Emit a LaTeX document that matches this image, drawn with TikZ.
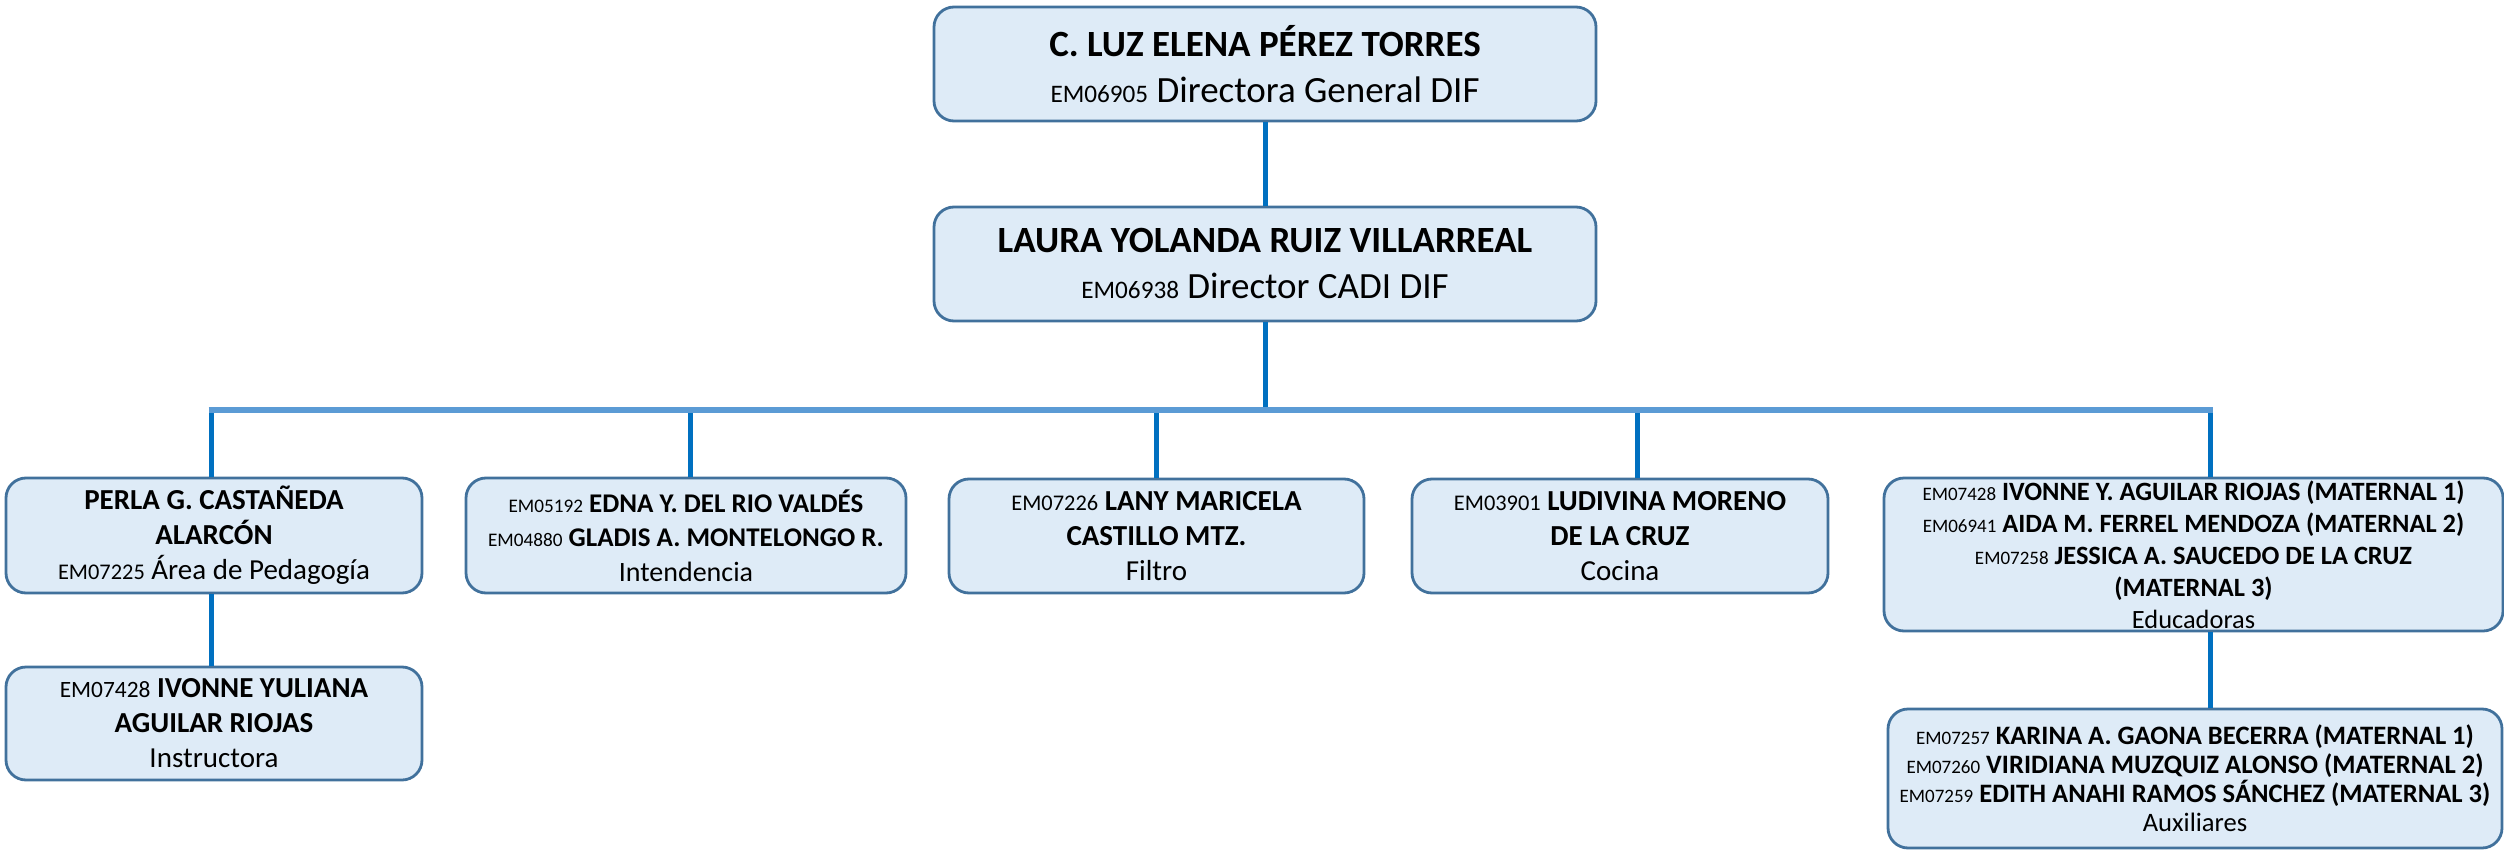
\documentclass[tikz,border=0pt]{standalone}
\usepackage{fontspec}
\setmainfont{Carlito}
\definecolor{boxfill}{RGB}{222,235,247}
\definecolor{boxline}{RGB}{65,113,156}
\definecolor{droplc}{RGB}{0,112,192}
\definecolor{buslc}{RGB}{91,155,213}
\def\codefont{}
\newcommand{\emc}[1]{{\codefont #1}}
\begin{document}
\begin{tikzpicture}[x=0.5pt,y=-0.5pt,
  box/.style={draw=boxline, fill=boxfill, line width=1.4pt, rounded corners=10pt, inner sep=0pt, align=center},
  topfont/.style={font={\fontsize{18.5}{23}\selectfont\def\codefont{\fontsize{12.6}{12.6}\selectfont}}},
  midfont/.style={font={\fontsize{14.5}{17.5}\selectfont\def\codefont{\fontsize{11.2}{11.2}\selectfont}}},
  intfont/.style={font={\fontsize{13.5}{17.2}\selectfont\def\codefont{\fontsize{9.6}{9.6}\selectfont}}},
  edfont/.style={font={\fontsize{13.2}{16}\selectfont\def\codefont{\fontsize{9.5}{9.5}\selectfont}}},
  auxfont/.style={font={\fontsize{13.3}{14.5}\selectfont\def\codefont{\fontsize{9.5}{9.5}\selectfont}}},
  link/.style={draw=droplc, line width=2.5pt},
  buslink/.style={draw=buslc, line width=3pt}]
\useasboundingbox (0,0) rectangle (2504,850);

\node[box, topfont, minimum width=331pt, minimum height=57pt] (dg) at (1265,64)
  {\textbf{C. LUZ ELENA PÉREZ TORRES}\\\emc{EM06905} Directora General DIF};
\node[box, topfont, minimum width=331pt, minimum height=57pt] (cadi) at (1265,264)
  {\textbf{LAURA YOLANDA RUIZ VILLARREAL}\\\emc{EM06938} Director CADI DIF};

\node[box, midfont, minimum width=208pt, minimum height=57.5pt] (pa) at (214,535.5)
  {\textbf{PERLA G. CASTAÑEDA}\\\textbf{ALARCÓN}\\\emc{EM07225} Área de Pedagogía};
\node[box, midfont, minimum width=208pt, minimum height=56.5pt] (pi) at (214,723.5)
  {{\fontsize{11.7}{11.7}\selectfont EM07428} \textbf{IVONNE YULIANA}\\\textbf{AGUILAR RIOJAS}\\Instructora};
\node[box, intfont, minimum width=220pt, minimum height=57.5pt] (in) at (686,535.5)
  {\emc{EM05192} \textbf{EDNA Y. DEL RIO VALDÉS}\\\emc{EM04880} \textbf{GLADIS A. MONTELONGO R.}\\{\fontsize{14}{14}\selectfont Intendencia}};
\node[box, midfont, minimum width=207.5pt, minimum height=57pt] (fi) at (1156.5,536)
  {\emc{EM07226} \textbf{LANY MARICELA}\\\textbf{CASTILLO MTZ.}\\Filtro};
\node[box, midfont, minimum width=208pt, minimum height=57pt] (co) at (1620,536)
  {\emc{EM03901} \textbf{LUDIVINA MORENO}\\\textbf{DE LA CRUZ}\\Cocina};
\node[box, edfont, minimum width=309.5pt, minimum height=76.5pt] (ed) at (2193.5,554.5)
  {\emc{EM07428} \textbf{IVONNE Y. AGUILAR RIOJAS (MATERNAL 1)}\\
   \emc{EM06941} \textbf{AIDA M. FERREL MENDOZA (MATERNAL 2)}\\
   \emc{EM07258} \textbf{JESSICA A. SAUCEDO DE LA CRUZ}\\
   \textbf{(MATERNAL 3)}\\Educadoras};
\node[box, auxfont, minimum width=307pt, minimum height=69.5pt] (au) at (2195,778.5)
  {\emc{EM07257} \textbf{KARINA A. GAONA BECERRA (MATERNAL 1)}\\
   \emc{EM07260} \textbf{VIRIDIANA MUZQUIZ ALONSO (MATERNAL 2)}\\
   \emc{EM07259} \textbf{EDITH ANAHI RAMOS SÁNCHEZ (MATERNAL 3)}\\Auxiliares};

\coordinate (dA) at (211,410);
\coordinate (dB) at (690,410);
\coordinate (dC) at (1156,410);
\coordinate (dD) at (1637,410);
\coordinate (dE) at (2210,410);

\draw[link] (dg.south) -- (cadi.north);
\draw[link] (cadi.south) -- (cadi.south |- dA);
\draw[link] (dA) -- (dA |- pa.north);
\draw[link] (dB) -- (dB |- in.north);
\draw[link] (dC) -- (dC |- fi.north);
\draw[link] (dD) -- (dD |- co.north);
\draw[link] (dE) -- (dE |- ed.north);
\draw[link] (dA |- pa.south) -- (dA |- pi.north);
\draw[link] (dE |- ed.south) -- (dE |- au.north);
\draw[buslink] ([xshift=-1.25pt]dA) -- ([xshift=1.25pt]dE);
\end{tikzpicture}
\end{document}
